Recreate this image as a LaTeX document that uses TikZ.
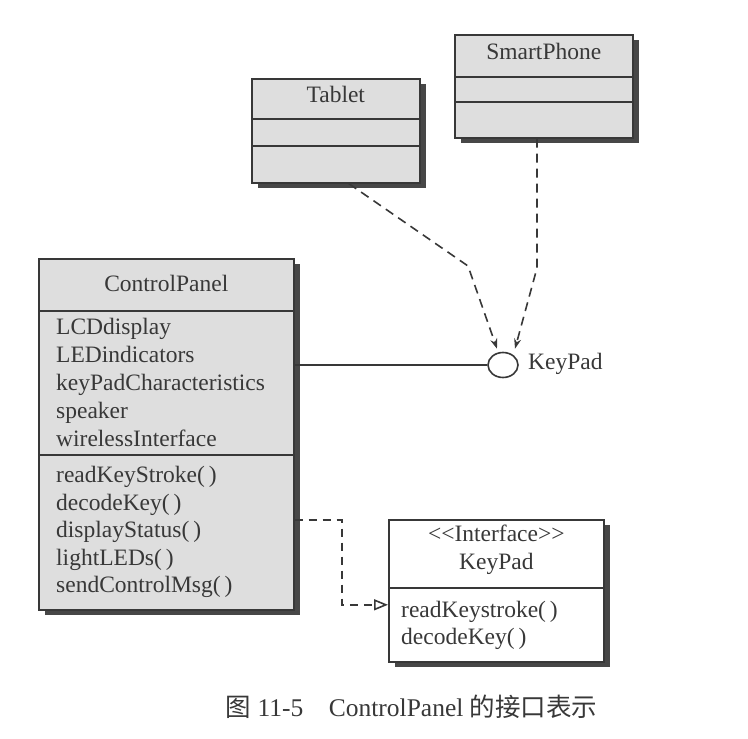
\documentclass[tikz,border=0pt]{standalone}
\usepackage{fontspec}
\setmainfont{Liberation Serif}
\newfontfamily\cjkfont{Noto Sans CJK SC}
\usetikzlibrary{arrows.meta, shapes.geometric, shadows}
\definecolor{ink}{HTML}{383838}
\definecolor{boxfill}{HTML}{DEDEDE}
\definecolor{shade}{HTML}{474747}
\tikzset{
  classbox/.style={draw=ink, line width=1.6pt, fill=boxfill, anchor=north west, inner sep=0pt,
    drop shadow={shadow xshift=6pt, shadow yshift=-5pt, fill=shade, opacity=1}},
  divider/.style={draw=ink, line width=1.6pt},
  member/.style={anchor=west, inner sep=0pt, text height=0.92em, text depth=0em},
  title/.style={inner sep=0pt, text height=0.92em, text depth=0em},
  realize/.style={draw=ink, line width=1.6pt, dash pattern=on 9pt off 6pt, -{Stealth[length=10pt, width=7pt]}},
}
\begin{document}
\begin{tikzpicture}[x=1pt, y=-1pt, font=\fontsize{23.5pt}{28pt}\selectfont, text=ink]
  \useasboundingbox (0,0) rectangle (748,739);

  % Tablet and SmartPhone
  \node[classbox, minimum width=168pt, minimum height=104pt] (tablet) at (251,78) {};
  \node[title] (tablet-name) at ([yshift=-20pt]tablet.north) {Tablet};
  \draw[divider] ([yshift=-41pt]tablet.north west) -- ([yshift=-41pt]tablet.north east);
  \draw[divider] ([yshift=-68pt]tablet.north west) -- ([yshift=-68pt]tablet.north east);

  \node[classbox, minimum width=178pt, minimum height=103pt] (phone) at (454,34) {};
  \node[title] (phone-name) at ([yshift=-21pt]phone.north) {SmartPhone};
  \draw[divider] ([yshift=-43pt]phone.north west) -- ([yshift=-43pt]phone.north east);
  \draw[divider] ([yshift=-68pt]phone.north west) -- ([yshift=-68pt]phone.north east);

  % ControlPanel
  \node[classbox, minimum width=255pt, minimum height=351pt] (panel) at (38,258) {};
  \node[title] (panel-name) at ([yshift=-29pt]panel.north) {ControlPanel};
  \draw[divider] ([yshift=-53pt]panel.north west) -- ([yshift=-53pt]panel.north east);
  \draw[divider] ([yshift=-197pt]panel.north west) -- ([yshift=-197pt]panel.north east);
  \foreach \txt [count=\i] in {LCDdisplay, LEDindicators, keyPadCharacteristics, speaker, wirelessInterface}
    \node[member] (panel-a\i) at (56, {330+28*(\i-1)}) {\txt};
  \foreach \txt [count=\i] in {readKeyStroke(\,), decodeKey(\,), displayStatus(\,), lightLEDs(\,), sendControlMsg(\,)}
    \node[member] (panel-m\i) at (56, {478+27.5*(\i-1)}) {\txt};

  % interface class
  \node[classbox, fill=white, minimum width=215pt, minimum height=142pt] (keypad) at (388,519) {};
  \node[title] (keypad-stereo) at ([yshift=-18pt]keypad.north) {<\kern0pt<Interface>\kern0pt>};
  \node[title] (keypad-name) at ([yshift=-46pt]keypad.north) {KeyPad};
  \draw[divider] ([yshift=-69pt]keypad.north west) -- ([yshift=-69pt]keypad.north east);
  \node[member] (keypad-m1) at (401,613) {readKeystroke(\,)};
  \node[member] (keypad-m2) at (401,640) {decodeKey(\,)};

  % lollipop
  \node[ellipse, draw=ink, line width=1.6pt, fill=white, minimum width=30pt, minimum height=25pt, inner sep=0pt] (ball) at (503,365) {};
  \node[member] (ball-name) at (528,365) {KeyPad};

  \coordinate (tablet-bend) at (468,266);
  \coordinate (phone-bend) at (537,268);
  \coordinate (dep-turn) at (342,520);

  \draw[realize] ([xshift=13pt]tablet.south) -- (tablet-bend) -- ([xshift=-6pt, yshift=3pt]ball.north);
  \draw[realize] (phone-bend |- phone.south) -- (phone-bend) -- ([xshift=12pt, yshift=3pt]ball.north);
  \draw[ink, line width=1.6pt] (panel.east |- ball.west) -- (ball.west);
  \draw[ink, line width=1.6pt, dash pattern=on 8pt off 6pt, -{Triangle[open, length=14pt, width=11pt]}]
    (panel.east |- dep-turn) -- (dep-turn) |- ([yshift=-14pt]keypad.west);

  \node (caption) at (411.5,707) {\fontsize{25.5pt}{30pt}\selectfont{\cjkfont 图} 11-5\quad ControlPanel {\cjkfont 的接口表示}};
\end{tikzpicture}
\end{document}
